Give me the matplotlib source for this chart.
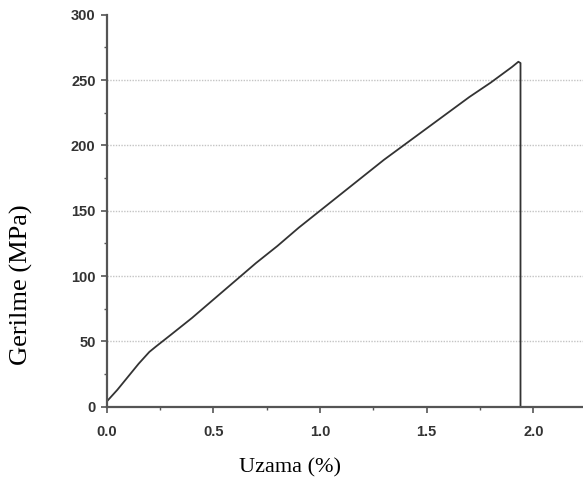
import matplotlib
matplotlib.use("Agg")
import matplotlib.pyplot as plt
from matplotlib.ticker import MultipleLocator

# strain (%) and stress (MPa)
uzama = [0.0, 0.05, 0.10, 0.15, 0.20, 0.23, 0.30, 0.40, 0.50, 0.60, 0.70,
         0.80, 0.90, 1.00, 1.10, 1.20, 1.30, 1.40, 1.50, 1.60, 1.70, 1.80,
         1.90, 1.93, 1.94, 1.94]
gerilme = [4, 13, 23, 33, 42, 46, 55, 68, 82, 96, 110,
           123, 137, 150, 163, 176, 189, 201, 213, 225, 237, 248,
           260, 264, 263, 0]

x_ticks = [0.0, 0.5, 1.0, 1.5, 2.0]
y_ticks = [0, 50, 100, 150, 200, 250, 300]

fig = plt.figure(figsize=(5.83, 4.82), dpi=100)
ax = fig.add_axes([0.183, 0.156, 0.817, 0.8135])

ax.plot(uzama, gerilme, color="#333333", lw=1.3)

ax.set_xlim(0, 2.233)
ax.set_ylim(0, 300)
ax.set_xticks(x_ticks)
ax.set_yticks(y_ticks)
ax.set_xticklabels(["%.1f" % v for v in x_ticks])
ax.xaxis.set_minor_locator(MultipleLocator(0.25))
ax.yaxis.set_minor_locator(MultipleLocator(25))

# dotted horizontal grid
for v in y_ticks[1:-1]:
    ax.axhline(v, color="#c4c4c4", lw=1, ls=(0, (1, 1)), zorder=0)

for s in ["top", "right"]:
    ax.spines[s].set_visible(False)
for s in ["left", "bottom"]:
    ax.spines[s].set_color("#555555")
    ax.spines[s].set_linewidth(1.6)

ax.tick_params(which="major", direction="out", length=4, width=1.2,
               color="#555555", pad=4)
ax.tick_params(which="minor", direction="out", length=2.5, width=1,
               color="#555555")
ax.tick_params(axis="x", which="major", pad=9)
for lab in ax.get_xticklabels() + ax.get_yticklabels():
    lab.set_fontfamily("Liberation Sans")
    lab.set_fontweight("bold")
    lab.set_fontsize(10.5)
    lab.set_color("#333333")

fig.text(0.498, 0.03, "Uzama (%)", family="Liberation Serif", fontsize=16,
         ha="center", va="center")
fig.text(0.036, 0.41, "Gerilme (MPa)", family="Liberation Serif", fontsize=19,
         rotation=90, ha="center", va="center")

plt.savefig("out.png", dpi=100)
